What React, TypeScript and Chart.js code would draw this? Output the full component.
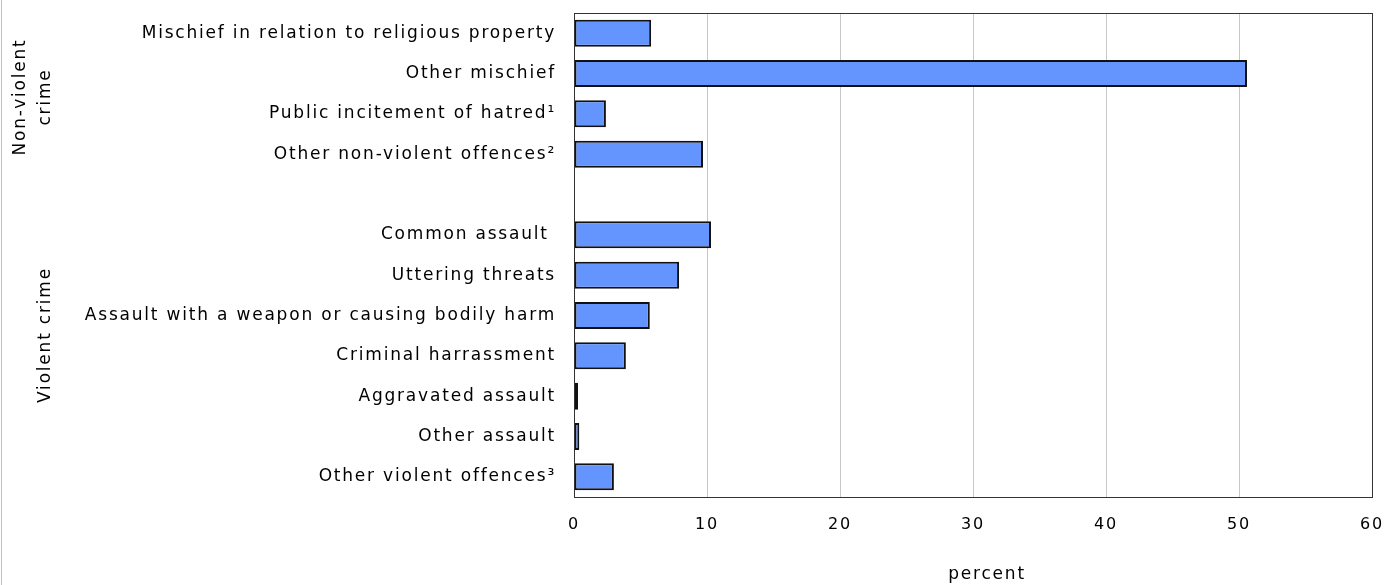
import React, { useEffect, useRef } from "react";
import { Chart, registerables } from "chart.js";

Chart.register(...registerables);

const categories: string[] = [
  "Mischief in relation to religious property",
  "Other mischief",
  "Public incitement of hatred\u00B9",
  "Other non-violent offences\u00B2",
  "",
  "Common assault ",
  "Uttering threats",
  "Assault with a weapon or causing bodily harm",
  "Criminal harrassment",
  "Aggravated assault",
  "Other assault",
  "Other violent offences\u00B3",
];

const values: (number | null)[] = [5.8, 50.6, 2.4, 9.7, null, 10.3, 7.9, 5.7, 3.9, 0.3, 0.4, 3.0];

const xTicks: number[] = [0, 10, 20, 30, 40, 50, 60];

const groupLabels: { lines: string[]; x: number[]; y: number }[] = [
  { lines: ["Non-violent", "crime"], x: [21, 46], y: 97 },
  { lines: ["Violent crime"], x: [46], y: 335 },
];

const xTitle = "percent";

const FONT = "'DejaVu Sans', Verdana, sans-serif";
const LS = "1.8px";
const FS = 17;

export default function App() {
  const ref = useRef<HTMLCanvasElement | null>(null);

  useEffect(() => {
    if (!ref.current) return;
    const spacingPlugin = {
      id: "spacing",
      beforeLayout(chart: any) {
        chart.ctx.letterSpacing = LS;
      },
      beforeDraw(chart: any) {
        chart.ctx.letterSpacing = LS;
      },
    };
    const decorPlugin = {
      id: "decor",
      afterDraw(chart: any) {
        const ctx = chart.ctx as CanvasRenderingContext2D;
        const a = chart.chartArea;
        ctx.save();
        (ctx as any).letterSpacing = LS;
        ctx.strokeStyle = "#333333";
        ctx.lineWidth = 1;
        ctx.strokeRect(Math.round(a.left) + 0.5, Math.round(a.top) + 0.5, Math.round(a.right - a.left), Math.round(a.bottom - a.top));
        ctx.fillStyle = "#000000";
        ctx.font = `${FS}px ${FONT}`;
        ctx.textAlign = "center";
        ctx.textBaseline = "middle";
        for (const g of groupLabels) {
          g.lines.forEach((line, i) => {
            ctx.save();
            ctx.translate(g.x[i], g.y);
            ctx.rotate(-Math.PI / 2);
            ctx.fillText(line, 0, 0);
            ctx.restore();
          });
        }
        ctx.fillText(xTitle, (a.left + a.right) / 2 + 14, 575);
        ctx.restore();
      },
    };
    const chart = new Chart(ref.current, {
      type: "bar",
      data: {
        labels: categories,
        datasets: [
          {
            data: values as any,
            backgroundColor: "#6495FF",
            borderColor: "#111111",
            borderWidth: 2,
            borderSkipped: false,
            barPercentage: 0.67,
            categoryPercentage: 1,
          },
        ],
      },
      options: {
        indexAxis: "y",
        animation: false,
        responsive: false,
        maintainAspectRatio: false,
        layout: { padding: { top: 13, right: 14, left: 0, bottom: 0 } },
        plugins: { legend: { display: false }, tooltip: { enabled: false } },
        scales: {
          x: {
            type: "linear",
            position: "bottom",
            min: 0,
            max: 60,
            afterBuildTicks(scale: any) {
              scale.ticks = xTicks.map((v) => ({ value: v }));
            },
            afterFit(scale: any) {
              scale.height = 88;
              scale.paddingLeft = 0;
              scale.paddingRight = 0;
            },
            grid: { color: "#c8c8c8", drawTicks: false, lineWidth: 1 },
            border: { color: "#333333", width: 1 },
            ticks: { color: "#000", font: { family: FONT, size: 16 }, padding: 18, maxRotation: 0 },
          },
          y: {
            type: "category",
            position: "left",
            afterFit(scale: any) {
              scale.width = 574;
              scale.paddingTop = 0;
              scale.paddingBottom = 0;
            },
            grid: { display: false, drawTicks: false },
            border: { color: "#333333", width: 1 },
            ticks: { color: "#000", font: { family: FONT, size: FS }, padding: 18, autoSkip: false },
          },
        },
      },
      plugins: [spacingPlugin, decorPlugin],
    } as any);
    return () => chart.destroy();
  }, []);

  return (
    <div style={{ position: "fixed", left: 0, top: 0, width: 1386, height: 585, background: "#fff" }}>
      <canvas ref={ref} width={1386} height={585} style={{ display: "block", width: 1386, height: 585 }} />
      <div style={{ position: "absolute", left: 1, top: 0, width: 1, height: 585, background: "#c0c0c0" }} />
    </div>
  );
}
